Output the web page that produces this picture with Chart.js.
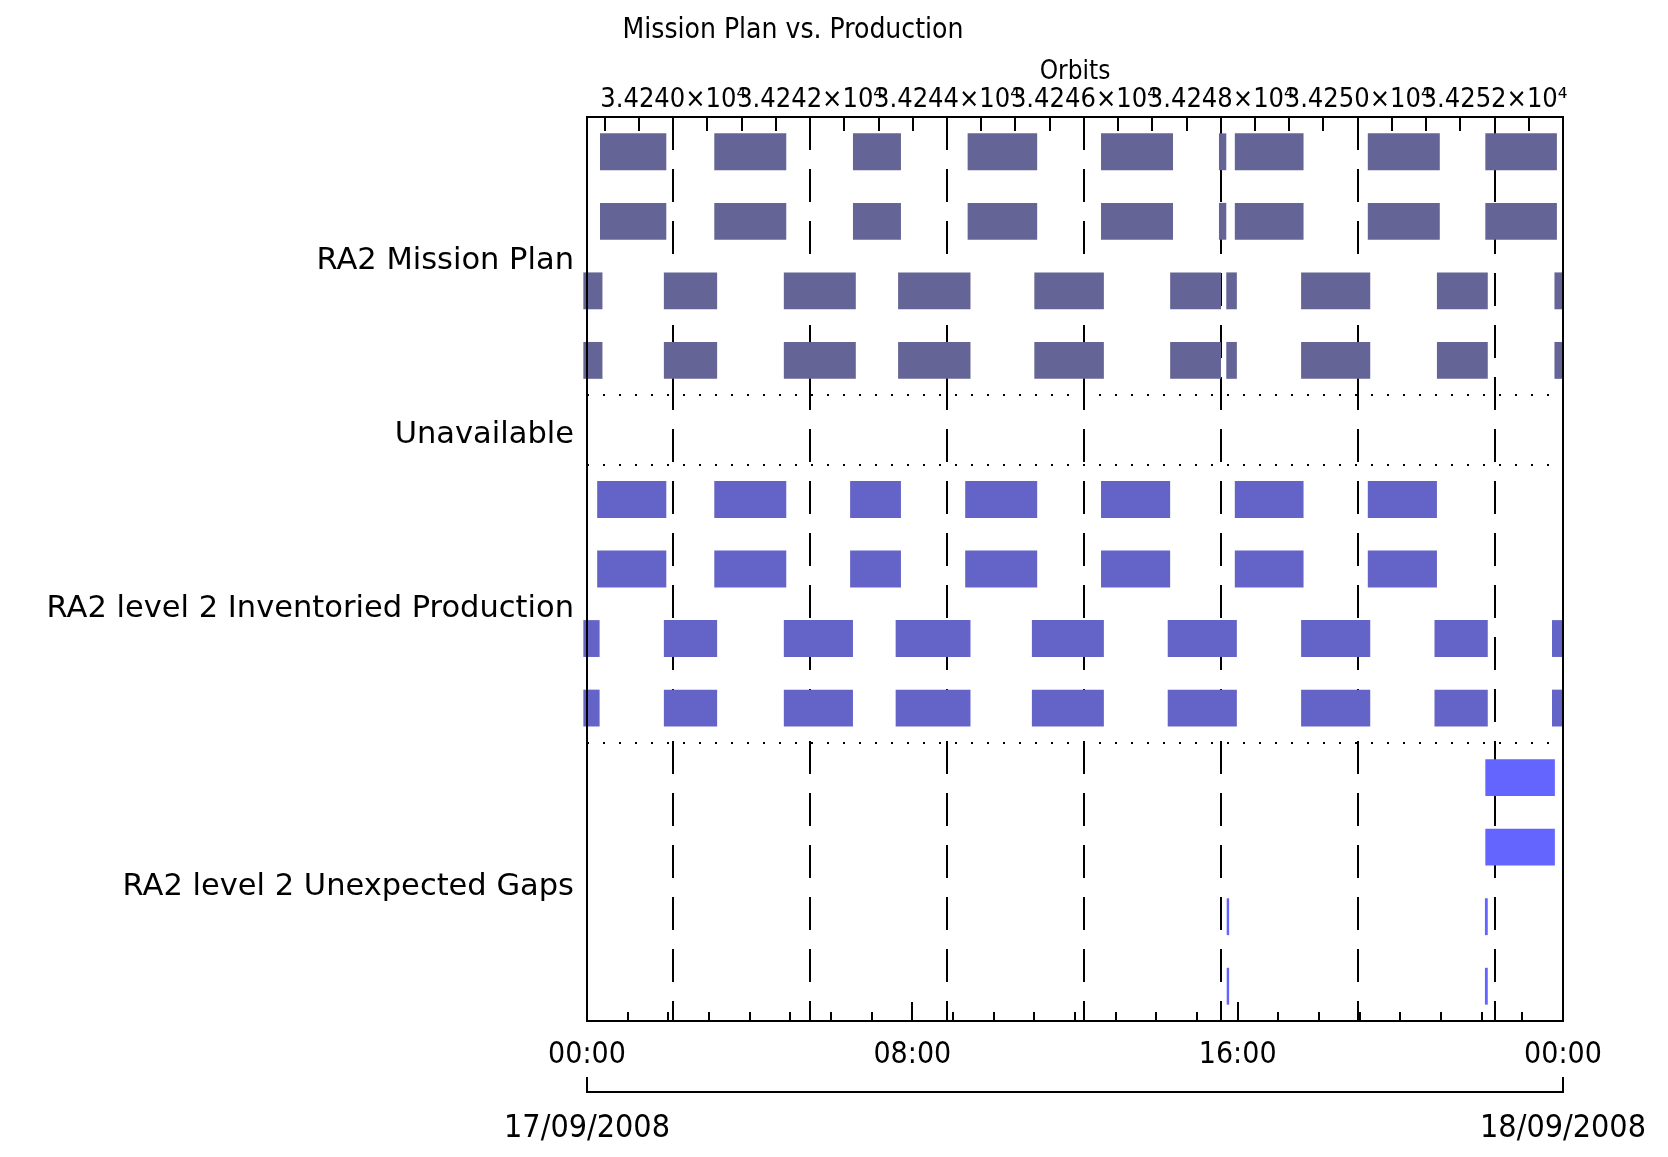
<!DOCTYPE html>
<html>
<head>
<meta charset="utf-8">
<title>Mission Plan vs. Production</title>
<script src="https://cdn.jsdelivr.net/npm/chart.js@4.4.1/dist/chart.umd.min.js"></script>
<style>
  html, body { margin: 0; padding: 0; background: #ffffff; }
  #chart { display: block; }
</style>
</head>
<body>
<canvas id="chart" width="1668" height="1157"></canvas>
<script>
console.log('missionPlan.js: Loaded');

// Rows of the plot, top to bottom
const slotNames = ['plan1', 'plan2', 'plan3', 'plan4', 'unavailable',
    'prod1', 'prod2', 'prod3', 'prod4', 'gaps1', 'gaps2', 'gaps3', 'gaps4'];

// Group labels on the left and how many rows each one takes
const groupLabels = ['RA2 Mission Plan', 'Unavailable', 'RA2 level 2 Inventoried Production', 'RA2 level 2 Unexpected Gaps'];
const groupSizes = [4, 1, 4, 4];

// Intervals, hours since 17/09/2008 00:00
const planA = [[0.32, 1.95], [3.13, 4.90], [6.54, 7.72], [9.36, 11.07], [12.64, 14.41],
    [15.54, 15.72], [15.93, 17.62], [19.20, 20.97], [22.09, 23.85]];
const planB = [[-0.09, 0.38], [1.89, 3.20], [4.84, 6.61], [7.65, 9.43], [11.00, 12.71],
    [14.34, 15.59], [15.72, 15.98], [17.56, 19.26], [20.90, 22.15], [23.79, 24.00]];
const prodA = [[0.25, 1.95], [3.13, 4.90], [6.47, 7.72], [9.30, 11.07], [12.64, 14.34],
    [15.93, 17.62], [19.20, 20.90]];
const prodB = [[-0.09, 0.31], [1.89, 3.20], [4.84, 6.54], [7.59, 9.43], [10.94, 12.71],
    [14.28, 15.98], [17.56, 19.26], [20.84, 22.15], [23.73, 24.00]];
const gapsA = [[22.09, 23.80]];
const gapsB = [[15.73, 15.79], [22.08, 22.15]];

// Bottom axis: hours and dates
const timeLabelHours = [0, 8, 16, 24];
const timeLabels = ['00:00', '08:00', '16:00', '00:00'];
const dateLabels = ['17/09/2008', '18/09/2008'];

// Top axis: orbit numbers at the left and right edge of the plot
const orbitRange = [34238.74, 34253.00];
const orbitLabelStep = 2;
const orbitTickStep = 0.5;

const colors = { plan: '#646496', prod: '#6464c8', gaps: '#6464ff' };
const narrowFont = '"DejaVu Sans Condensed", "Liberation Sans Narrow", "DejaVu Sans", sans-serif';
const wideFont = '"DejaVu Sans", "Liberation Sans", sans-serif';

function toBars(rows, intervals) {
    return rows.flatMap(row => intervals.map(iv => ({ x: iv, y: row })));
}

// group boundaries (dotted lines) and group centres (labels), in row units
const groupEdges = [];
const groupCenters = [];
let acc = 0;
groupSizes.forEach((n, i) => {
    groupCenters.push(acc + n / 2);
    acc += n;
    if (i < groupSizes.length - 1) groupEdges.push(acc);
});

function orbitLabel(v) {
    return (v / 10000).toFixed(4) + '×10⁴';
}

// IDL style frame: inward ticks, box and the date bracket
const idlFrame = {
    id: 'idlFrame',
    afterDraw(chart) {
        const { ctx, chartArea: a, scales } = chart;
        ctx.save();
        ctx.strokeStyle = '#000000';
        ctx.lineWidth = 2;
        const line = (x1, y1, x2, y2) => {
            ctx.beginPath();
            ctx.moveTo(x1, y1);
            ctx.lineTo(x2, y2);
            ctx.stroke();
        };
        scales.x.ticks.forEach(t => {
            const px = Math.round(scales.x.getPixelForValue(t.value));
            const len = timeLabelHours.includes(t.value) ? 19 : 9;
            line(px, a.bottom, px, a.bottom - len);
        });
        scales.xOrbit.ticks.forEach(t => {
            const px = Math.round(scales.xOrbit.getPixelForValue(t.value));
            line(px, a.top, px, a.top + 14);
        });
        ctx.strokeRect(a.left, a.top, a.right - a.left, a.bottom - a.top);

        const d = scales.xDate;
        const by = d.top + 11;
        ctx.beginPath();
        ctx.moveTo(d.getPixelForValue(0), by - 15);
        ctx.lineTo(d.getPixelForValue(0), by);
        ctx.lineTo(d.getPixelForValue(24), by);
        ctx.lineTo(d.getPixelForValue(24), by - 15);
        ctx.stroke();
        ctx.restore();
    }
};

function drawChart() {
    console.log('drawChart: Starting');
    try {
        const canvas = document.getElementById('chart');
        if (!window.Chart) {
            console.error('Chart.js is not loaded');
            return;
        }
        const common = { grouped: false, barPercentage: 0.53, categoryPercentage: 1, borderWidth: 0, clip: false };

        new Chart(canvas, {
            type: 'bar',
            data: {
                datasets: [
                    Object.assign({ label: 'RA2 Mission Plan', backgroundColor: colors.plan,
                        data: toBars(['plan1', 'plan2'], planA).concat(toBars(['plan3', 'plan4'], planB)) }, common),
                    Object.assign({ label: 'RA2 level 2 Inventoried Production', backgroundColor: colors.prod,
                        data: toBars(['prod1', 'prod2'], prodA).concat(toBars(['prod3', 'prod4'], prodB)) }, common),
                    Object.assign({ label: 'RA2 level 2 Unexpected Gaps', backgroundColor: colors.gaps,
                        data: toBars(['gaps1', 'gaps2'], gapsA).concat(toBars(['gaps3', 'gaps4'], gapsB)) }, common)
                ]
            },
            options: {
                indexAxis: 'y',
                responsive: false,
                animation: false,
                layout: { padding: { left: 23, right: 105, top: 0, bottom: 10 } },
                plugins: {
                    legend: { display: false },
                    tooltip: { enabled: false },
                    title: {
                        display: true,
                        text: 'Mission Plan vs. Production',
                        color: '#000000',
                        font: { family: narrowFont, size: 28, weight: 'normal' },
                        padding: { top: 14, bottom: 8.4 }
                    }
                },
                scales: {
                    y: {
                        type: 'category',
                        labels: slotNames,
                        display: false
                    },
                    // group labels and dotted separators; no offset, unlike the bar index axis
                    yGroup: {
                        type: 'linear',
                        position: 'left',
                        min: 0,
                        max: slotNames.length,
                        reverse: true,
                        offset: false,
                        afterBuildTicks: scale => {
                            scale.ticks = groupEdges.concat(groupCenters)
                                .sort((p, q) => p - q)
                                .map(v => ({ value: v }));
                        },
                        afterFit: scale => { scale.width = 564; },
                        ticks: {
                            autoSkip: false,
                            padding: 13,
                            labelOffset: 5,
                            color: '#000000',
                            font: { family: wideFont, size: 30.5 },
                            callback: v => {
                                const i = groupCenters.indexOf(v);
                                return i >= 0 ? groupLabels[i] : '';
                            }
                        },
                        grid: {
                            offset: false,
                            drawTicks: false,
                            lineWidth: 2,
                            color: c => (c.tick && groupEdges.includes(c.tick.value)) ? '#000000' : 'rgba(0,0,0,0)'
                        },
                        border: { display: false, dash: [2, 14] }
                    },
                    x: {
                        type: 'linear',
                        position: 'bottom',
                        min: 0,
                        max: 24,
                        weight: 0,
                        afterFit: scale => { scale.height = 60; },
                        ticks: {
                            stepSize: 1,
                            autoSkip: false,
                            maxRotation: 0,
                            padding: 8,
                            color: '#000000',
                            font: { family: narrowFont, size: 30 },
                            callback: v => {
                                const i = timeLabelHours.indexOf(v);
                                return i >= 0 ? timeLabels[i] : '';
                            }
                        },
                        grid: { display: false },
                        border: { display: false }
                    },
                    xDate: {
                        type: 'linear',
                        position: 'bottom',
                        min: 0,
                        max: 24,
                        weight: 1,
                        offset: false,
                        afterBuildTicks: scale => { scale.ticks = [{ value: 0 }, { value: 24 }]; },
                        afterFit: scale => { scale.height = 66; },
                        ticks: {
                            autoSkip: false,
                            maxRotation: 0,
                            padding: 20,
                            color: '#000000',
                            font: { family: narrowFont, size: 32 },
                            callback: (v, i) => dateLabels[i]
                        },
                        grid: { display: false },
                        border: { display: false }
                    },
                    xOrbit: {
                        type: 'linear',
                        position: 'top',
                        min: orbitRange[0],
                        max: orbitRange[1],
                        offset: false,
                        afterBuildTicks: scale => {
                            const ticks = [];
                            for (let v = Math.ceil(orbitRange[0] / orbitTickStep) * orbitTickStep; v <= orbitRange[1]; v += orbitTickStep) {
                                ticks.push({ value: v });
                            }
                            scale.ticks = ticks;
                        },
                        afterFit: scale => { scale.height = 61; },
                        title: {
                            display: true,
                            text: 'Orbits',
                            color: '#000000',
                            font: { family: narrowFont, size: 26 },
                            padding: { top: 1, bottom: 0 }
                        },
                        ticks: {
                            autoSkip: false,
                            maxRotation: 0,
                            minRotation: 0,
                            padding: 1,
                            color: '#000000',
                            font: { family: narrowFont, size: 27 },
                            callback: v => (Number.isInteger(v) && v % orbitLabelStep === 0) ? orbitLabel(v) : ''
                        },
                        grid: {
                            offset: false,
                            drawTicks: false,
                            lineWidth: 2,
                            color: c => (c.tick && Number.isInteger(c.tick.value) && c.tick.value % orbitLabelStep === 0) ? '#000000' : 'rgba(0,0,0,0)'
                        },
                        border: { display: false, dash: [33, 19] }
                    }
                }
            },
            plugins: [idlFrame]
        });
        console.log('drawChart: Completed');
    } catch (error) {
        console.error('drawChart: Error', error);
    }
}

drawChart();
</script>
</body>
</html>
